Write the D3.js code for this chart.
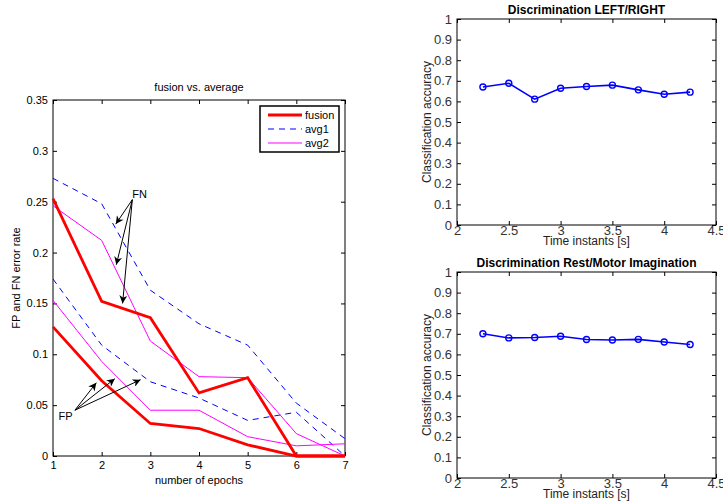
<!DOCTYPE html>
<html>
<head>
<meta charset="utf-8">
<script src="https://cdn.jsdelivr.net/npm/d3@7"></script>
<style>
body{margin:0;background:#fff;}
text{font-family:"Liberation Sans",Arial,sans-serif;}
</style>
</head>
<body>
<script>
// left chart data
var epochs=[1,2,3,4,5,6,7];
var fusionFN=[0.253,0.152,0.136,0.062,0.077,0,0];
var fusionFP=[0.127,0.074,0.032,0.027,0.011,0,0];
var avg1FN=[0.273,0.248,0.163,0.130,0.109,0.052,0.017];
var avg1FP=[0.174,0.109,0.073,0.057,0.035,0.043,0];
var avg2FN=[0.246,0.212,0.113,0.078,0.077,0.022,0];
var avg2FP=[0.153,0.093,0.045,0.045,0.019,0.010,0.012];
var leftYTicks=[0,0.05,0.1,0.15,0.2,0.25,0.3,0.35];

// right charts data
var timeInstants=[2.25,2.5,2.75,3,3.25,3.5,3.75,4,4.25];
var accLeftRight=[0.670,0.688,0.611,0.664,0.672,0.679,0.656,0.635,0.645];
var accRestMotor=[0.700,0.680,0.682,0.688,0.672,0.670,0.673,0.660,0.648];
var rightXTicks=[2,2.5,3,3.5,4,4.5];
var rightYTicks=[0,0.1,0.2,0.3,0.4,0.5,0.6,0.7,0.8,0.9,1];

// annotations (data units)
var fnArrows={label:[2.78,0.258],from:[2.63,0.252],to:[[2.29,0.228],[2.30,0.188],[2.43,0.150]]};
var fpArrows={label:[1.26,0.039],from:[1.45,0.045],to:[[1.89,0.072],[2.27,0.076],[2.80,0.075]]};

var svg=d3.select("body").append("svg").attr("width",723).attr("height",502);
svg.append("defs").append("marker")
  .attr("id","ah").attr("viewBox","0 0 10 10").attr("refX",10).attr("refY",5)
  .attr("markerWidth",10).attr("markerHeight",8).attr("markerUnits","userSpaceOnUse")
  .attr("orient","auto")
  .append("path").attr("d","M0,0 L10,5 L0,10 L3,5 Z").attr("fill","#000");

// ---------- left chart ----------
var L={x0:53,x1:345,y0:100,y1:456};
var lx=d3.scaleLinear().domain([1,7]).range([L.x0,L.x1]);
var ly=d3.scaleLinear().domain([0,0.35]).range([L.y1,L.y0]);
var g=svg.append("g");

function boxAxes(g,x,y,xt,yt,fs,padX,tickFmtX,tickFmtY){
  var b={x0:x.range()[0],x1:x.range()[1],y0:y.range()[1],y1:y.range()[0]};
  g.append("g").attr("transform","translate(0,"+b.y1+")")
    .call(d3.axisBottom(x).tickValues(xt).tickSize(-4).tickPadding(padX).tickFormat(tickFmtX));
  g.append("g").attr("transform","translate(0,"+b.y0+")")
    .call(d3.axisTop(x).tickValues(xt).tickSize(-4).tickFormat(""));
  g.append("g").attr("transform","translate("+b.x0+",0)")
    .call(d3.axisLeft(y).tickValues(yt).tickSize(-4).tickPadding(5).tickFormat(tickFmtY));
  g.append("g").attr("transform","translate("+b.x1+",0)")
    .call(d3.axisRight(y).tickValues(yt).tickSize(-4).tickFormat(""));
  g.selectAll(".domain").remove();
  g.selectAll(".tick line").attr("stroke","#000");
  g.selectAll(".tick text").attr("font-size",fs).attr("fill","#000").attr("font-family","Liberation Sans,Arial,sans-serif");
  g.append("rect").attr("x",b.x0).attr("y",b.y0).attr("width",b.x1-b.x0).attr("height",b.y1-b.y0)
    .attr("fill","none").attr("stroke","#000").attr("stroke-width",1);
}
boxAxes(g,lx,ly,epochs,leftYTicks,11,5,d3.format("d"),function(d){return d===0?"0":String(+d.toFixed(2));});

var line=d3.line().x(function(d,i){return lx(epochs[i]);}).y(function(d){return ly(d);});
var series=[
  {v:avg1FN,c:"#0000ff",w:1,dash:"6,5"},{v:avg1FP,c:"#0000ff",w:1,dash:"6,5"},
  {v:avg2FN,c:"#ff00ff",w:1,dash:null},{v:avg2FP,c:"#ff00ff",w:1,dash:null},
  {v:fusionFN,c:"#ff0000",w:2.8,dash:null},{v:fusionFP,c:"#ff0000",w:2.8,dash:null}
];
g.selectAll("path.series").data(series).enter().append("path")
  .attr("class","series").attr("d",function(d){return line(d.v);})
  .attr("fill","none").attr("stroke",function(d){return d.c;})
  .attr("stroke-width",function(d){return d.w;})
  .attr("stroke-dasharray",function(d){return d.dash;});

// legend
var lg=g.append("g").attr("transform","translate(260,106)");
lg.append("rect").attr("width",79).attr("height",46).attr("fill","#fff").attr("stroke","#000").attr("stroke-width",1.5);
var legendItems=[{t:"fusion",c:"#ff0000",w:2.8,dash:null},{t:"avg1",c:"#0000ff",w:1,dash:"6,5"},{t:"avg2",c:"#ff00ff",w:1,dash:null}];
lg.selectAll("line").data(legendItems).enter().append("line")
  .attr("x1",8).attr("x2",42).attr("y1",function(d,i){return 9+i*14;}).attr("y2",function(d,i){return 9+i*14;})
  .attr("stroke",function(d){return d.c;}).attr("stroke-width",function(d){return d.w;})
  .attr("stroke-dasharray",function(d){return d.dash;});
lg.selectAll("text").data(legendItems).enter().append("text")
  .attr("x",45).attr("y",function(d,i){return 13+i*14;}).attr("font-size",11).text(function(d){return d.t;});

// annotations
[fnArrows,fpArrows].forEach(function(a,k){
  g.selectAll(null).data(a.to).enter().append("line")
    .attr("x1",lx(a.from[0])).attr("y1",ly(a.from[1]))
    .attr("x2",function(d){return lx(d[0]);}).attr("y2",function(d){return ly(d[1]);})
    .attr("stroke","#000").attr("stroke-width",1).attr("marker-end","url(#ah)");
  g.append("text").attr("x",lx(a.label[0])).attr("y",ly(a.label[1])+4)
    .attr("text-anchor","middle").attr("font-size",11).text(k===0?"FN":"FP");
});

g.append("text").attr("x",(L.x0+L.x1)/2).attr("y",91).attr("text-anchor","middle").attr("font-size",11).text("fusion vs. average");
g.append("text").attr("x",(L.x0+L.x1)/2).attr("y",484).attr("text-anchor","middle").attr("font-size",11).text("number of epochs");
g.append("text").attr("transform","translate(20,"+((L.y0+L.y1)/2)+") rotate(-90)").attr("text-anchor","middle").attr("font-size",11).text("FP and FN error rate");

// ---------- right charts ----------
function rightChart(top,title,vals){
  var x=d3.scaleLinear().domain([2,4.5]).range([457,716]);
  var y=d3.scaleLinear().domain([0,1]).range([top+206,top]);
  var rg=svg.append("g");
  boxAxes(rg,x,y,rightXTicks,rightYTicks,13,1,function(d){return String(d);},function(d){return String(+d.toFixed(1));});
  rg.selectAll(".tick text").attr("fill","#333");
  var ln=d3.line().x(function(d,i){return x(timeInstants[i]);}).y(function(d){return y(d);});
  rg.append("path").attr("d",ln(vals)).attr("fill","none").attr("stroke","#0000ff").attr("stroke-width",1.6);
  rg.selectAll("circle").data(vals).enter().append("circle")
    .attr("cx",function(d,i){return x(timeInstants[i]);}).attr("cy",function(d){return y(d);})
    .attr("r",3).attr("fill","none").attr("stroke","#0000ff").attr("stroke-width",1.4);
  rg.append("text").attr("x",(457+716)/2).attr("y",top-5).attr("text-anchor","middle")
    .attr("font-size",12).attr("font-weight","bold").text(title);
  rg.append("text").attr("x",(457+716)/2).attr("y",top+206+20).attr("text-anchor","middle")
    .attr("font-size",12).attr("fill","#222").text("Time instants [s]");
  rg.append("text").attr("transform","translate(431,"+(top+103)+") rotate(-90)").attr("text-anchor","middle")
    .attr("font-size",12).attr("fill","#222").text("Classification accuracy");
}
rightChart(19,"Discrimination LEFT/RIGHT",accLeftRight);
rightChart(272,"Discrimination Rest/Motor Imagination",accRestMotor);
</script>
</body>
</html>
